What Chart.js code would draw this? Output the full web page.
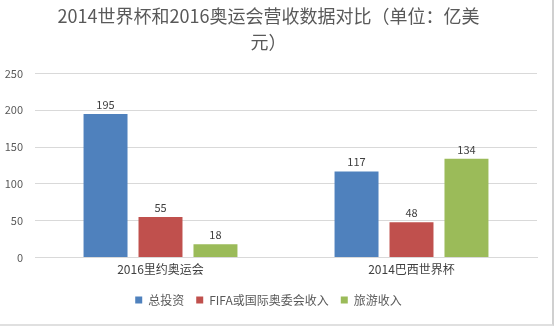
<!DOCTYPE html>
<html>
<head>
<meta charset="utf-8">
<script src="https://cdn.jsdelivr.net/npm/chart.js@4"></script>
<style>
  html, body { margin: 0; padding: 0; background: #ffffff; }
  #wrap { width: 552px; height: 324px; border-right: 2px solid #d0d0d0; border-bottom: 2px solid #e0e0e0; background: #ffffff; }
</style>
</head>
<body>
<div id="wrap"><canvas id="myChart" width="552" height="324"></canvas></div>
<script>
const categories = ["2016里约奥运会", "2014巴西世界杯"];
const seriesNames = ["总投资", "FIFA或国际奥委会收入", "旅游收入"];
const totalInvest = [195, 117];
const fifaIoc = [55, 48];
const tourism = [18, 134];
const yTicks = [0, 50, 100, 150, 200, 250];
const barColors = ["#4f81bd", "#c0504d", "#9bbb59"];

const font = "'Noto Sans CJK SC', 'Noto Sans', sans-serif";

// draws the value above each bar
const valueLabels = {
  id: "valueLabels",
  afterDatasetsDraw(chart) {
    const ctx = chart.ctx;
    ctx.save();
    ctx.fillStyle = "#404040";
    ctx.font = "11px " + font;
    ctx.textAlign = "center";
    ctx.textBaseline = "bottom";
    chart.data.datasets.forEach(function(ds, i) {
      chart.getDatasetMeta(i).data.forEach(function(bar, j) {
        ctx.fillText(ds.data[j], bar.x, bar.y - 4);
      });
    });
    ctx.restore();
  }
};

new Chart("myChart", {
  type: "bar",
  data: {
    labels: categories,
    datasets: [
      { label: seriesNames[0], data: totalInvest, backgroundColor: barColors[0] },
      { label: seriesNames[1], data: fifaIoc, backgroundColor: barColors[1] },
      { label: seriesNames[2], data: tourism, backgroundColor: barColors[2] }
    ]
  },
  options: {
    responsive: false,
    animation: false,
    categoryPercentage: 0.657,
    barPercentage: 0.8,
    layout: { padding: { left: 0, right: 15, top: 4, bottom: 8 } },
    plugins: {
      title: {
        display: true,
        text: ["2014世界杯和2016奥运会营收数据对比（单位：亿美", "元）"],
        color: "#595959",
        font: { family: font, size: 18, weight: "normal", lineHeight: 1.4 },
        padding: { top: 0, bottom: 19 }
      },
      legend: {
        position: "bottom",
        labels: {
          color: "#595959",
          font: { family: font, size: 12 },
          usePointStyle: true,
          pointStyle: "rect",
          boxWidth: 7,
          boxHeight: 7,
          padding: 12
        }
      },
      tooltip: { enabled: false }
    },
    scales: {
      x: {
        grid: { display: false, drawTicks: false },
        border: { color: "#d9d9d9" },
        ticks: { color: "#404040", font: { family: font, size: 12 }, padding: 5 }
      },
      y: {
        min: 0,
        max: 250,
        afterBuildTicks: function(axis) {
          axis.ticks = yTicks.map(function(v) { return { value: v }; });
        },
        afterFit: function(axis) { axis.width = 35; },
        grid: { color: "#d9d9d9", drawTicks: false },
        border: { display: false },
        ticks: { color: "#595959", font: { family: font, size: 11 }, padding: 12 }
      }
    }
  },
  plugins: [valueLabels]
});
</script>
</body>
</html>
